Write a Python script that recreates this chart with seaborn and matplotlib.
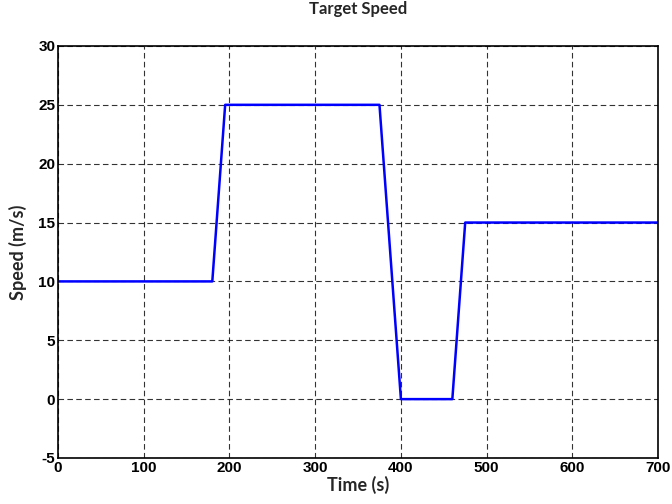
import matplotlib
matplotlib.use("Agg")
import matplotlib.pyplot as plt
import pandas as pd
import seaborn as sns

# target speed profile
time_s = [0, 180, 195, 375, 400, 460, 475, 700]
speed_ms = [10, 10, 25, 25, 0, 0, 15, 15]

x_ticks = [0, 100, 200, 300, 400, 500, 600, 700]
y_ticks = [-5, 0, 5, 10, 15, 20, 25, 30]

df = pd.DataFrame({"Time (s)": time_s, "Speed (m/s)": speed_ms})

sns.set_style("white")
plt.rcParams["font.family"] = ["Liberation Sans", "DejaVu Sans"]
plt.rcParams["axes.unicode_minus"] = False

fig = plt.figure(figsize=(6.72, 5.04), dpi=100)
ax = fig.add_axes([0.0863, 0.0913, 0.893, 0.8175])

sns.lineplot(data=df, x="Time (s)", y="Speed (m/s)", ax=ax,
             color="#0000ff", linewidth=1.8, sort=False, estimator=None)

ax.set_xlim(0, 700)
ax.set_ylim(-5, 30)
ax.set_xticks(x_ticks)
ax.set_yticks(y_ticks)
ax.grid(True, color="black", linestyle=(0, (5, 3)), linewidth=0.8, alpha=0.8)
ax.tick_params(direction="in", length=4, width=0.8, colors="black", labelsize=11, pad=2)
for lab in ax.get_xticklabels() + ax.get_yticklabels():
    lab.set_fontweight("bold")
    lab.set_family(["Liberation Sans", "DejaVu Sans"])
for side in ax.spines.values():
    side.set_color("black")
    side.set_linewidth(1.2)

label_font = {"family": ["Lato", "DejaVu Sans"], "weight": "bold", "size": 13}
ax.set_xlabel("Time (s)", fontdict=label_font, labelpad=1)
ax.set_ylabel("Speed (m/s)", fontdict=label_font, labelpad=8)
ax.set_title("Target Speed", fontdict={"family": ["Lato", "DejaVu Sans"], "weight": "bold", "size": 12}, pad=23)

fig.savefig("out.png", dpi=100)
